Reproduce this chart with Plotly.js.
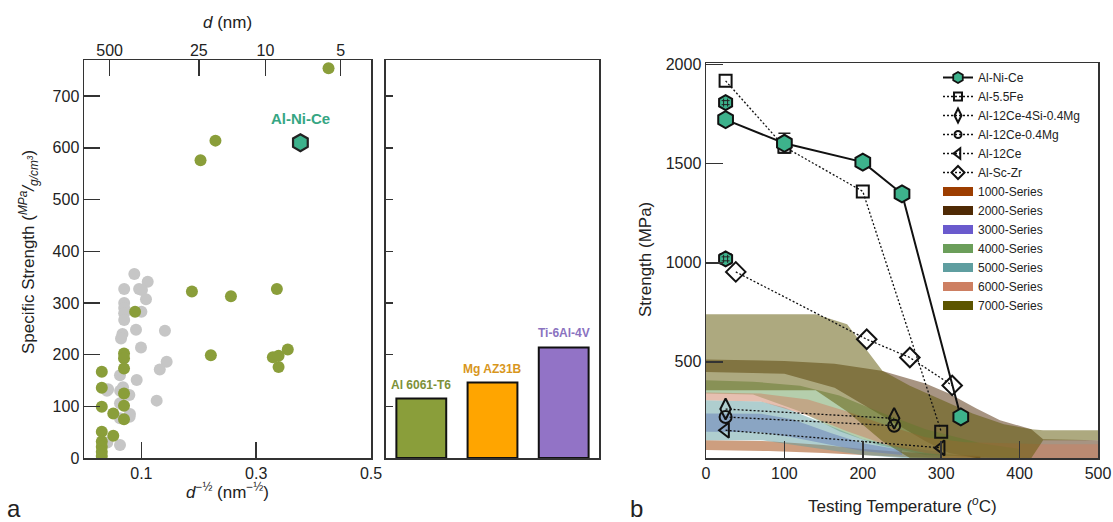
<!DOCTYPE html>
<html>
<head>
<meta charset="utf-8">
<script src="https://cdn.plot.ly/plotly-3.0.1.min.js"></script>
<style>html,body{margin:0;padding:0;background:#fff}#chart{width:1113px;height:522px}</style>
</head>
<body>
<div id="chart"></div>
<script>
// ---------- Panel a: specific strength vs d^-1/2 ----------
const greyX = [0.0877,0.111,0.070,0.096,0.101,0.108,0.070,0.070,0.070,0.070,0.100,0.0906,0.141,0.067,0.0645,0.0993,0.144,0.132,0.0627,0.0918,0.042,0.040,0.063,0.068,0.079,0.1266,0.0627,0.0627,0.080,0.0795,0.0627,0.0406];
const greyY = [356,341,327,327,325,307,300,290,280,267,283,248,246,240,231,214,186,171,160,151,133,130,130,137,122,111,106,77,85,80,25,30];
const greenX = [0.031,0.031,0.031,0.031,0.031,0.031,0.031,0.031,0.051,0.051,0.0697,0.0697,0.0697,0.0697,0.0697,0.0697,0.089,0.188,0.256,0.336,0.221,0.329,0.339,0.339,0.355,0.426,0.229,0.203];
const greenY = [167,136,99,51,32,22,12,4,86,43,202,193,173,125,101,75,283,322,313,327,199,195,198,176,210,754,614,576];
const alniceLeftX = [0.377];
const alniceLeftY = [610];
const topTickD = [500,25,10,5];               // d (nm) labels on the top axis
const bottomTicks = [0.1,0.3,0.5];
const leftYTicks = [0,100,200,300,400,500,600,700];

// ---------- Panel a (right part): comparison bars ----------
const barNames = ['Al 6061-T6','Mg AZ31B','Ti-6Al-4V'];
const barValues = [115,146,214];
const barColors = ['#8a9e3a','#ffa500','#9273c6'];
const barLabelColors = ['#7c9038','#d8961c','#8a72c0'];

// ---------- Panel b: strength vs testing temperature ----------
const alniceT = [25,100,200,250,325];
const alniceS = [1722,1603,1508,1348,222];
const alniceErr = [20,50,22,20,15];
const alniceExtraT = [25,25];
const alniceExtraS = [1808,1020];
const alniceExtraErr = [0,25];
const fe55T = [25,100,200,300];
const fe55S = [1918,1585,1360,148];
const ce4siT = [25,240];
const ce4siS = [262,215];
const ceMgT = [25,240];
const ceMgS = [222,178];
const ce12T = [25,300];
const ce12S = [155,66];
const sczrT = [38,205,260,314];
const sczrS = [954,614,522,381];

// Alloy-series strength bands (temperature, lower, upper)
const s1000T  = [0,80,150,200,250,300,350];
const s1000Lo = [55,50,40,30,20,15,15];
const s1000Hi = [105,100,80,60,45,35,25];
const s2000T  = [0,100,164,224,280,310,345,375,415,430,500];
const s2000Lo = [449,440,370,230,100,40,15,15,15,15,15];
const s2000Hi = [512,505,490,455,391,340,265,206,160,110,105];
const s3000T  = [0,70,110,160,200,250];
const s3000Lo = [147,145,120,80,50,30];
const s3000Hi = [240,238,210,140,90,55];
const s4000T  = [0,60,120,170,220,280,350,400];
const s4000Lo = [340,335,250,150,80,30,20,15];
const s4000Hi = [407,400,380,330,250,160,90,60];
const s5000T  = [0,70,100,150,200,250,300];
const s5000Lo = [105,105,90,60,30,15,15];
const s5000Hi = [306,300,270,190,110,70,45];
const s6000T  = [0,70,130,180,230,280,330,430,500];
const s6000Lo = [306,300,230,150,80,40,20,15,15];
const s6000Hi = [345,340,310,250,180,120,95,85,85];
const s7000T  = [0,140,180,225,260,300,340,380,415,430,500];
const s7000Lo = [357,357,250,100,15,15,15,15,15,105,105];
const s7000Hi = [740,740,690,455,380,310,240,185,160,155,155];

const seriesNames = ['1000-Series','2000-Series','3000-Series','4000-Series','5000-Series','6000-Series','7000-Series'];
const seriesColors = ['#9c3d00','#4f2a05','#6a5acd','#6b9e5a','#5f9ea0','#cd7f62','#5c5400'];
const seriesData = [
  [s1000T,s1000Lo,s1000Hi],[s2000T,s2000Lo,s2000Hi],[s3000T,s3000Lo,s3000Hi],
  [s4000T,s4000Lo,s4000Hi],[s5000T,s5000Lo,s5000Hi],[s6000T,s6000Lo,s6000Hi],[s7000T,s7000Lo,s7000Hi]
];

function rgba(hex,a){
  const r=parseInt(hex.slice(1,3),16),g=parseInt(hex.slice(3,5),16),b=parseInt(hex.slice(5,7),16);
  return 'rgba('+r+','+g+','+b+','+a+')';
}

const teal = '#3db28c';
const traces = [];

// panel a scatter
traces.push({x:greyX,y:greyY,xaxis:'x',yaxis:'y',type:'scatter',mode:'markers',showlegend:false,
  marker:{color:'#c6c6c6',size:12,line:{width:0}}});
traces.push({x:greenX,y:greenY,xaxis:'x',yaxis:'y',type:'scatter',mode:'markers',showlegend:false,
  marker:{color:'#8a9e3a',size:12,line:{width:0}}});
traces.push({x:alniceLeftX,y:alniceLeftY,xaxis:'x',yaxis:'y',type:'scatter',mode:'markers',showlegend:false,
  marker:{symbol:'hexagon',color:teal,size:17,line:{color:'#222',width:2.2}}});
// invisible trace so the top (d) axis is drawn
traces.push({x:[null],y:[null],xaxis:'x2',yaxis:'y',type:'scatter',mode:'markers',showlegend:false,hoverinfo:'skip'});

// bars
traces.push({x:barNames,y:barValues,xaxis:'x3',yaxis:'y3',type:'bar',showlegend:false,
  marker:{color:barColors,line:{color:'#111',width:2}}});

// bands
seriesData.forEach((d,i)=>{
  const T=d[0],lo=d[1],hi=d[2];
  traces.push({x:T.concat(T.slice().reverse()),y:hi.concat(lo.slice().reverse()),
    xaxis:'x4',yaxis:'y4',type:'scatter',mode:'lines',fill:'toself',
    fillcolor:rgba(seriesColors[i],0.5),line:{width:0},showlegend:false,hoverinfo:'skip'});
});

// alloy curves (legend shown by separate small-marker entries below)
const dotLine = {color:'#111',width:1.3,dash:'2px,2px'};
const curves = [
  {name:'Al-5.5Fe',x:fe55T,y:fe55S,sym:'square-open',size:12,lsize:8},
  {name:'Al-12Ce-4Si-0.4Mg',x:ce4siT,y:ce4siS,sym:'diamond-tall-open',size:15,lsize:10},
  {name:'Al-12Ce-0.4Mg',x:ceMgT,y:ceMgS,sym:'circle-open',size:12,lsize:7},
  {name:'Al-12Ce',x:ce12T,y:ce12S,sym:'triangle-left-open',size:13,lsize:9},
  {name:'Al-Sc-Zr',x:sczrT,y:sczrS,sym:'diamond-open',size:15,lsize:10}
];
curves.forEach(c=>{
  traces.push({x:c.x,y:c.y,xaxis:'x4',yaxis:'y4',type:'scatter',mode:'lines+markers',showlegend:false,
    line:dotLine,marker:{symbol:c.sym,size:c.size,color:'#111',line:{width:2,color:'#111'}}});
});
traces.push({x:alniceExtraT,y:alniceExtraS,xaxis:'x4',yaxis:'y4',type:'scatter',mode:'markers',showlegend:false,
  error_y:{type:'data',array:alniceExtraErr,color:'#333',thickness:1.5,width:6},
  marker:{symbol:'hexagon',size:15,color:teal,line:{width:2,color:'#111'}}});
traces.push({x:alniceExtraT,y:alniceExtraS,xaxis:'x4',yaxis:'y4',type:'scatter',mode:'markers',showlegend:false,hoverinfo:'skip',
  marker:{symbol:'hash-open',size:8,color:'#222',line:{width:1,color:'#222'}}});
traces.push({x:alniceT,y:alniceS,xaxis:'x4',yaxis:'y4',type:'scatter',mode:'lines+markers',showlegend:false,
  line:{color:'#111',width:2},
  error_y:{type:'data',array:alniceErr,color:'#222',thickness:1.5,width:6},
  marker:{symbol:'hexagon',size:17,color:teal,line:{width:2,color:'#111'}}});

// legend entries
traces.push({x:[null],y:[null],xaxis:'x4',yaxis:'y4',type:'scatter',mode:'lines+markers',name:'Al-Ni-Ce',legendrank:1,
  line:{color:'#111',width:2},marker:{symbol:'hexagon',size:11,color:teal,line:{width:1.8,color:'#111'}}});
curves.forEach((c,i)=>{
  traces.push({x:[null],y:[null],xaxis:'x4',yaxis:'y4',type:'scatter',mode:'lines+markers',name:c.name,legendrank:2+i,
    line:dotLine,marker:{symbol:c.sym,size:c.lsize,color:'#111',line:{width:2,color:'#111'}}});
});
seriesNames.forEach((n,i)=>{
  traces.push({x:[null],y:[null],xaxis:'x4',yaxis:'y4',type:'scatter',mode:'lines',name:n,legendrank:10+i,
    line:{color:seriesColors[i],width:9}});
});

const axisCommon = {showgrid:false,zeroline:false,showline:true,linecolor:'#333',linewidth:1.5,mirror:true,
  ticks:'inside',tickcolor:'#333',tickwidth:1.5,tickfont:{size:16,color:'#222'}};

const W=1113,H=522;
const px=(v)=>v/W, py=(v)=>1-v/H;

const annotations = [
  {xref:'paper',yref:'paper',x:px(28),y:py(252),textangle:-90,showarrow:false,xanchor:'center',yanchor:'middle',
   text:'Specific Strength (<i><sup>MPa</sup>/<sub>g/cm<sup>3</sup></sub></i>)',font:{size:17,color:'#222'}},
  {xref:'paper',yref:'paper',x:px(227.5),y:py(22),showarrow:false,xanchor:'center',yanchor:'middle',
   text:'<i>d</i> (nm)',font:{size:17,color:'#222'}},
  {xref:'paper',yref:'paper',x:px(227.5),y:py(491),showarrow:false,xanchor:'center',yanchor:'middle',
   text:'<i>d</i><sup>−½</sup> (nm<sup>−½</sup>)',font:{size:17,color:'#222'}},
  {xref:'paper',yref:'paper',x:px(645),y:py(260),textangle:-90,showarrow:false,xanchor:'center',yanchor:'middle',
   text:'Strength (MPa)',font:{size:17,color:'#222'}},
  {xref:'paper',yref:'paper',x:px(902),y:py(505),showarrow:false,xanchor:'center',yanchor:'middle',
   text:'Testing Temperature (<sup><i>o</i></sup>C)',font:{size:17,color:'#222'}},
  {xref:'paper',yref:'paper',x:px(14),y:py(508),showarrow:false,xanchor:'center',yanchor:'middle',
   text:'a',font:{size:24,color:'#222'}},
  {xref:'paper',yref:'paper',x:px(636),y:py(508),showarrow:false,xanchor:'center',yanchor:'middle',
   text:'b',font:{size:24,color:'#222'}},
  {xref:'x',yref:'y',x:alniceLeftX[0],y:alniceLeftY[0],yshift:24,showarrow:false,xanchor:'center',yanchor:'middle',
   text:'<b>Al-Ni-Ce</b>',font:{size:15,color:'#36a683'}}
];
barNames.forEach((n,i)=>{
  annotations.push({xref:'x3',yref:'y3',x:n,y:barValues[i],yshift:5,showarrow:false,xanchor:'center',yanchor:'bottom',
    text:'<b>'+n+'</b>',font:{size:12,color:barLabelColors[i]}});
});

const layout = {
  width:W,height:H,margin:{l:0,r:0,t:0,b:0},paper_bgcolor:'#fff',plot_bgcolor:'#fff',
  font:{family:'"Liberation Sans", Arial, sans-serif',size:16,color:'#222'},
  bargap:0.3,
  showlegend:true,
  legend:{x:px(938),y:py(63),xanchor:'left',yanchor:'top',bgcolor:'rgba(0,0,0,0)',borderwidth:0,
    font:{size:12,color:'#222'},tracegroupgap:0},
  xaxis:Object.assign({},axisCommon,{domain:[px(84),px(371)],range:[0,0.5],tickvals:bottomTicks,ticktext:['0.1','0.3','0.5'],ticklen:16,anchor:'y'}),
  xaxis2:Object.assign({},axisCommon,{overlaying:'x',side:'top',anchor:'y',range:[0,0.5],
    tickvals:topTickD.map(d=>1/Math.sqrt(d)),ticktext:topTickD.map(String),ticklen:16,showline:false,mirror:false}),
  yaxis:Object.assign({},axisCommon,{domain:[1-458/H,1-60/H],range:[0,770],tickvals:leftYTicks,ticklen:16,anchor:'x'}),
  xaxis3:Object.assign({},axisCommon,{domain:[px(385.7),px(599.3)],anchor:'y3',showticklabels:false,ticks:''}),
  yaxis3:Object.assign({},axisCommon,{domain:[1-458/H,1-60/H],anchor:'x3',range:[0,770],tickvals:leftYTicks.slice(1),ticklen:7,showticklabels:false}),
  xaxis4:Object.assign({},axisCommon,{domain:[px(706),px(1098)],anchor:'y4',range:[0,500],tickvals:[0,100,200,300,400,500],ticklen:17}),
  yaxis4:Object.assign({},axisCommon,{domain:[1-458/H,1-63/H],anchor:'x4',range:[15,2008],tickvals:[500,1000,1500,2000],ticklen:17}),
  annotations:annotations
};

Plotly.newPlot('chart',traces,layout,{staticPlot:true,displayModeBar:false});
</script>
</body>
</html>
